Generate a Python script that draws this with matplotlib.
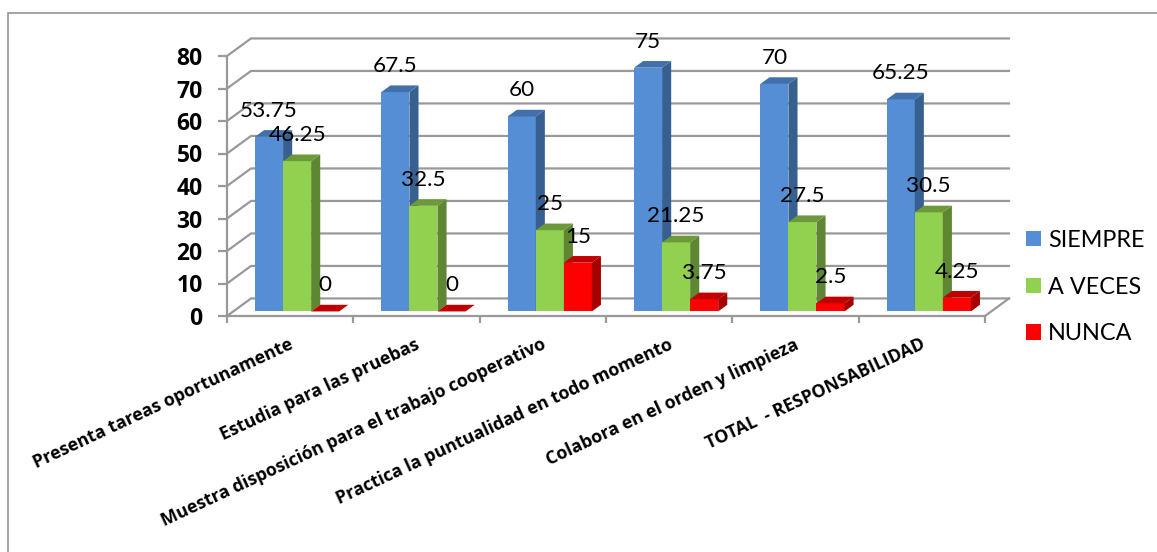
import matplotlib
matplotlib.use("Agg")
import matplotlib.pyplot as plt
from matplotlib.lines import Line2D

categorias = [
    "Presenta tareas oportunamente",
    "Estudia para las pruebas",
    "Muestra disposición para el trabajo cooperativo",
    "Practica la puntualidad en todo momento",
    "Colabora en el orden y limpieza",
    "TOTAL  - RESPONSABILIDAD",
]
siempre = [53.75, 67.5, 60, 75, 70, 65.25]
a_veces = [46.25, 32.5, 25, 21.25, 27.5, 30.5]
nunca = [0, 0, 15, 3.75, 2.5, 4.25]
y_ticks = [0, 10, 20, 30, 40, 50, 60, 70, 80]

W, H = 1157, 552
X0, X1, Y0, Y80 = 227, 985, 316, 56  # pixeles de la zona del grafico

GRIS = "#999999"
# profundidad de la pared y de las barras, en unidades de datos
PARED_DX, PARED_DY = 0.19, 5.4
BARRA_DX, BARRA_DY = 0.072, 2.05
ANCHO = 0.222
INICIO = 0.222
BASE = 1.4

series = [
    ("SIEMPRE", siempre, "#558ed5", "#375f8f", "#4270ab"),
    ("A VECES", a_veces, "#92d050", "#5f8632", "#6c9a3a"),
    ("NUNCA", nunca, "#ff0000", "#a60000", "#c00000"),
]

fig = plt.figure(figsize=(W / 100, H / 100), dpi=100)
# marco: solo arriba y a la izquierda, el resto queda fuera del recorte
fig.add_artist(Line2D([8 / W, 8 / W, 1], [0, 1 - 13 / H, 1 - 13 / H], transform=fig.transFigure,
                      color="#8c8c8c", lw=1.1, solid_joinstyle="miter"))

ax = fig.add_axes([X0 / W, 1 - Y0 / H, (X1 - X0) / W, (Y0 - Y80) / H])
ax.set_xlim(0, len(categorias))
ax.set_ylim(0, 80)
ax.patch.set_visible(False)

# paredes y piso
for v in y_ticks:
    ax.plot([0, PARED_DX, len(categorias) + PARED_DX], [v, v + PARED_DY, v + PARED_DY],
            color=GRIS, lw=1.6, clip_on=False, zorder=1, solid_joinstyle="miter")
ax.plot([len(categorias), len(categorias) + PARED_DX], [0, PARED_DY], color=GRIS, lw=1.6, clip_on=False, zorder=1)

for s in ["top", "right"]:
    ax.spines[s].set_visible(False)
for s in ["left", "bottom"]:
    ax.spines[s].set_color(GRIS)
    ax.spines[s].set_linewidth(1.6)

ax.set_yticks(y_ticks)
ax.set_yticklabels([str(v) for v in y_ticks], fontfamily="Open Sans", fontweight="bold", fontsize=16.5)
ax.tick_params(axis="y", length=6.5, width=1.6, color=GRIS, pad=11)
ax.set_xticks(range(len(categorias) + 1))
ax.set_xticklabels([])
ax.tick_params(axis="x", length=5, width=1.6, color=GRIS)

handles = []
for j, (nombre, valores, color, lado, tapa) in enumerate(series):
    xs = [i + INICIO + j * ANCHO for i in range(len(categorias))]
    bars = ax.bar(xs, valores, width=ANCHO, bottom=BASE, align="edge", color=color,
                  clip_on=False, zorder=3 + j, label=nombre)
    handles.append(bars)
    for x, v in zip(xs, valores):
        top = BASE + v
        der = x + ANCHO
        ax.fill([der, der + BARRA_DX, der + BARRA_DX, der],
                [BASE, BASE + BARRA_DY, top + BARRA_DY, top],
                color=lado, lw=0, clip_on=False, zorder=3 + j)
        ax.fill([x, x + BARRA_DX, der + BARRA_DX, der],
                [top, top + BARRA_DY, top + BARRA_DY, top],
                color=tapa, lw=0, clip_on=False, zorder=3 + j)
        ax.annotate(f"{v:g}", (x + ANCHO / 2, top), xytext=(0, 18.7), textcoords="offset points",
                    ha="center", va="center", fontfamily="Lato", fontsize=16.2, color="black",
                    annotation_clip=False, zorder=10)

for i, cat in enumerate(categorias):
    ax.annotate(cat, (i + 0.5, 0), xytext=(-1, -14), textcoords="offset points",
                ha="right", va="top", rotation=25, rotation_mode="anchor",
                fontfamily="Open Sans", fontweight="bold", fontsize=12.8, annotation_clip=False)

fig.legend(handles=handles, loc="center left", bbox_to_anchor=(1026 / W, 1 - 287 / H), frameon=False,
           prop={"family": "Lato", "size": 16.8}, handlelength=0.64, handleheight=0.64,
           handletextpad=0.3, labelspacing=1.11, borderpad=0, borderaxespad=0)

fig.savefig("out.png", dpi=100)
